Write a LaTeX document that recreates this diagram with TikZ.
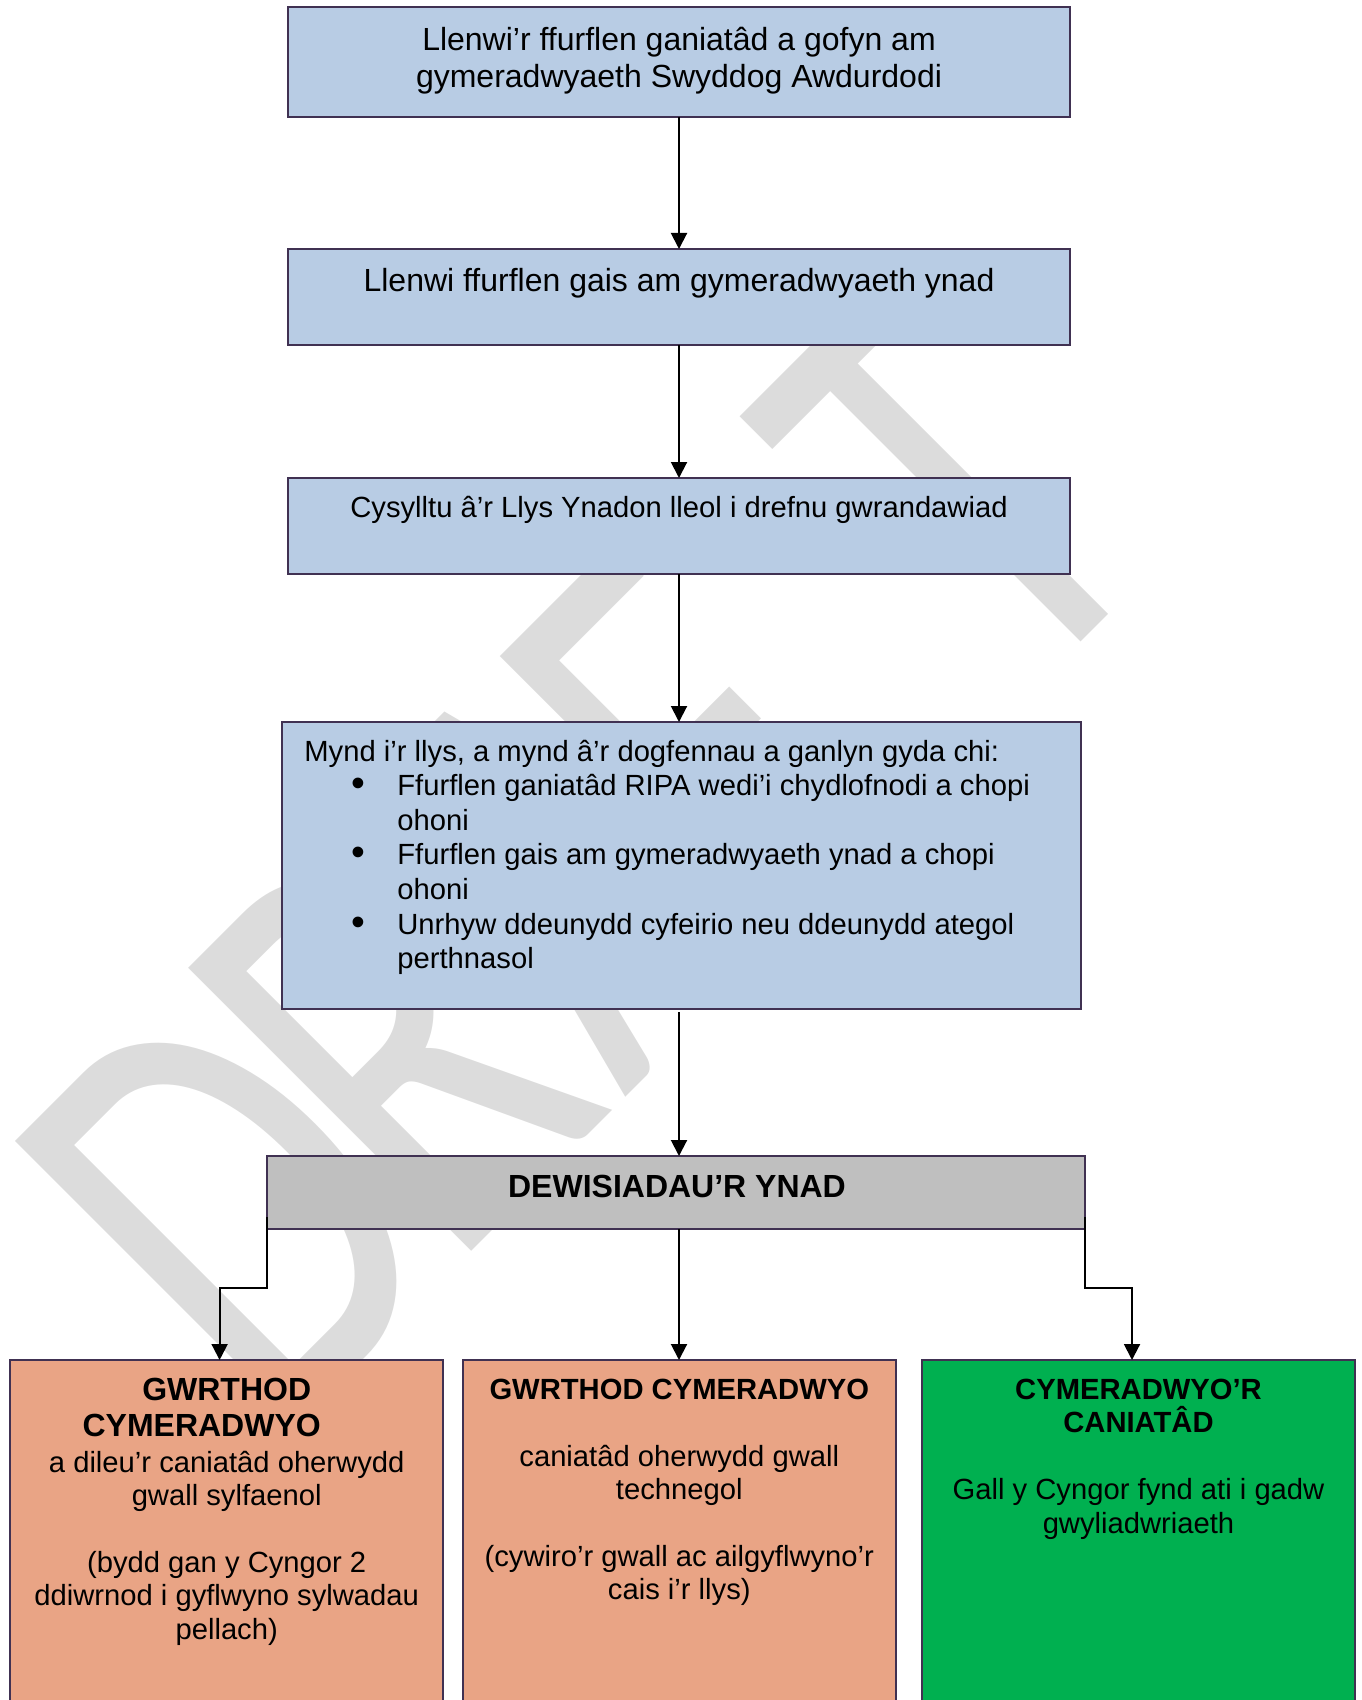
\documentclass[tikz,border=0pt]{standalone}
\usepackage{graphicx}
\usepackage{fontspec}
\setmainfont{Liberation Sans}[Ligatures=NoCommon]
\newfontfamily\wmfont{Carlito}
\usetikzlibrary{arrows.meta}
\definecolor{boxblue}{RGB}{184,204,228}
\definecolor{boxedge}{RGB}{64,49,82}
\definecolor{boxgrey}{RGB}{191,191,191}
\definecolor{boxsalmon}{RGB}{233,164,133}
\definecolor{boxgreen}{RGB}{0,176,80}
\definecolor{wmgrey}{RGB}{220,220,220}
\newcommand{\wmletter}[1]{\scalebox{0.7}[1]{#1}}
\newcommand{\bigbullet}{\makebox[23pt][l]{\raisebox{-0.5pt}{\scalebox{1.35}{\textbullet}}}}
\begin{document}
\begin{tikzpicture}[x=0.5pt,y=-0.5pt,
  box/.style={draw=boxedge, line width=1pt, rectangle, anchor=north west, inner sep=0pt, outer sep=0pt},
  txt/.style={anchor=north, inner sep=0pt, align=center, font=\fontsize{14.6}{17}\selectfont},
  wm/.style={rotate=45, anchor=base west, inner sep=0pt, text=wmgrey, font=\wmfont\fontsize{312}{312}\selectfont},
  arr/.style={-{Triangle[length=8pt,width=8pt]}, line width=1pt, black},
]
\useasboundingbox (0,0) rectangle (1361,1700);
\clip (0,0) rectangle (1361,1700);
% watermark
\node[wm] (wmD) at (277.5,1445.5) {\wmletter{D}};
\node[wm] (wmR) at (449,1274) {\wmletter{R}};
\node[wm] (wmA) at (624.6,1098.4) {\wmletter{A}};
\node[wm] (wmF) at (761.8,961.2) {\wmletter{F}};
\node[wm] (wmT) at (1019.2,703.8) {\wmletter{T}};
% boxes
\node[box, fill=boxblue, minimum width=391pt, minimum height=55pt] (b1) at (288,7) {};
\node[box, fill=boxblue, minimum width=391pt, minimum height=48pt] (b2) at (288,249) {};
\node[box, fill=boxblue, minimum width=391pt, minimum height=48pt] (b3) at (288,478) {};
\node[box, fill=boxblue, minimum width=399.6pt, minimum height=143.5pt] (b4) at (281.5,722) {};
\node[box, fill=boxgrey, minimum width=408.8pt, minimum height=36.5pt] (g) at (267.4,1156) {};
\node[box, fill=boxsalmon, minimum width=216.65pt, minimum height=180pt] (lb) at (10,1360) {};
\node[box, fill=boxsalmon, minimum width=216.65pt, minimum height=180pt] (mb) at (462.7,1360) {};
\node[box, fill=boxgreen, minimum width=216.35pt, minimum height=180pt] (rb) at (922.3,1360) {};
% texts
\node[txt, font=\fontsize{16}{18.35}\selectfont] (t1) at (679,22.5) {\rule{0pt}{14pt}Llenwi’r ffurflen ganiatâd a gofyn am\\gymeradwyaeth Swyddog Awdurdodi};
\node[txt, font=\fontsize{16}{18.35}\selectfont] (t2) at (679,263.2) {\rule{0pt}{14pt}Llenwi ffurflen gais am gymeradwyaeth ynad};
\node[txt] (t3) at (679,489) {\rule{0pt}{14pt}Cysylltu â’r Llys Ynadon lleol i drefnu gwrandawiad};
\node[txt, anchor=north west, align=left, font=\fontsize{14.6}{17.3}\selectfont] (t4) at (304,732.6) {\rule{0pt}{14pt}Mynd i’r llys, a mynd â’r dogfennau a ganlyn gyda chi:\\
\hspace*{23.5pt}\bigbullet Ffurflen ganiatâd RIPA wedi’i chydlofnodi a chopi\\
\hspace*{46.5pt}ohoni\\
\hspace*{23.5pt}\bigbullet Ffurflen gais am gymeradwyaeth ynad a chopi\\
\hspace*{46.5pt}ohoni\\
\hspace*{23.5pt}\bigbullet Unrhyw ddeunydd cyfeirio neu ddeunydd ategol\\
\hspace*{46.5pt}perthnasol};
\node[txt, font=\fontsize{16}{18}\selectfont\bfseries] (tg) at (677,1169) {\rule{0pt}{14pt}DEWISIADAU’R YNAD};
\node[txt, font=\fontsize{16}{18}\selectfont\bfseries] (tlh) at (226.7,1372) {\rule{0pt}{14pt}GWRTHOD\\
CYMERADWYO\hspace*{25pt}\mbox{}};
\node[txt, font=\fontsize{14.6}{16.7}\selectfont] (tl) at (226.7,1443.7) {\rule{0pt}{14pt}a dileu’r caniatâd oherwydd\\
gwall sylfaenol\\[16.7pt]
(bydd gan y Cyngor 2\\
ddiwrnod i gyflwyno sylwadau\\
pellach)};
\node[txt, font=\fontsize{14.6}{16.7}\selectfont] (tm) at (679.3,1371) {\rule{0pt}{14pt}\textbf{GWRTHOD CYMERADWYO}\\[16.7pt]
caniatâd oherwydd gwall\\
technegol\\[16.7pt]
(cywiro’r gwall ac ailgyflwyno’r\\
cais i’r llys)};
\node[txt, font=\fontsize{14.6}{16.7}\selectfont] (tr) at (1138.5,1371) {\rule{0pt}{14pt}\textbf{CYMERADWYO’R}\\
\textbf{CANIATÂD}\\[16.7pt]
Gall y Cyngor fynd ati i gadw\\
gwyliadwriaeth};
% connectors
\coordinate (lbend) at (219.6,1288);
\coordinate (rbend) at (1132,1288);
\draw[arr] (b1.south) -- (b2.north);
\draw[arr] (b2.south) -- (b3.north);
\draw[arr] (b3.south) -- (b3.south |- b4.north);
\draw[arr] ([yshift=-1.5pt]b4.south -| b3.south) -- (g.north -| b3.south);
\draw[arr] (g.south -| b3.south) -- (mb.north -| b3.south);
\draw[arr] ([yshift=6pt]g.south west) |- (lbend) -- (lbend |- lb.north);
\draw[arr] ([yshift=6pt]g.south east) |- (rbend) -- (rbend |- rb.north);
\end{tikzpicture}
\end{document}
